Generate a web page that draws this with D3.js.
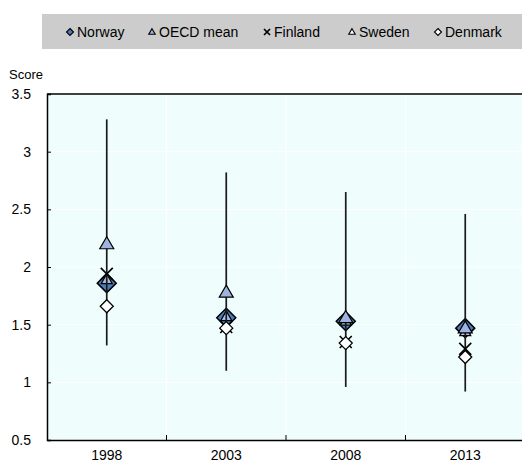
<!DOCTYPE html>
<html>
<head>
<meta charset="utf-8">
<script src="https://cdn.jsdelivr.net/npm/d3@7"></script>
<style>
  body { margin: 0; background: #fff; }
  text { font-family: "Liberation Sans", Arial, sans-serif; }
</style>
</head>
<body>
<script>
var width = 522;
var height = 465;

// data
var years = ["1998", "2003", "2008", "2013"];
var rangeMin = [1.32, 1.10, 0.96, 0.92];
var rangeMax = [3.28, 2.82, 2.65, 2.46];
var norway = [1.86, 1.56, 1.53, 1.47];
var oecdMean = [2.20, 1.78, 1.56, 1.47];
var finland = [1.94, 1.48, 1.35, 1.29];
var sweden = [1.89, 1.57, 1.53, 1.44];
var denmark = [1.66, 1.47, 1.34, 1.22];
var yTicks = [0.5, 1, 1.5, 2, 2.5, 3, 3.5];
var legendNames = ["Norway", "OECD mean", "Finland", "Sweden", "Denmark"];

var plotLeft = 47, plotRight = 525, plotTop = 94, plotBottom = 440;

var svg = d3.select("body").append("svg").attr("width", width).attr("height", height);

var x = d3.scaleBand().domain(years).range([plotLeft, plotRight]);
var y = d3.scaleLinear().domain([0.5, 3.5]).range([plotBottom, plotTop]);

// plot background
svg.append("rect")
    .attr("x", plotLeft).attr("y", plotTop)
    .attr("width", plotRight - plotLeft).attr("height", plotBottom - plotTop)
    .attr("fill", "#effdfd");

// white gridlines
svg.selectAll("line.hgrid").data(yTicks).enter().append("line")
    .attr("class", "hgrid")
    .attr("x1", plotLeft).attr("x2", plotRight)
    .attr("y1", function (d) { return y(d); })
    .attr("y2", function (d) { return y(d); })
    .attr("stroke", "#ffffff").attr("stroke-width", 1);
svg.selectAll("line.vgrid").data(years.slice(1)).enter().append("line")
    .attr("class", "vgrid")
    .attr("x1", function (d) { return x(d); })
    .attr("x2", function (d) { return x(d); })
    .attr("y1", plotTop).attr("y2", plotBottom)
    .attr("stroke", "#ffffff").attr("stroke-width", 1);

// axes
var yAxis = d3.axisLeft(y).tickValues(yTicks).tickSize(-4).tickPadding(16)
    .tickFormat(function (d) { return d; });
svg.append("g").attr("transform", "translate(" + plotLeft + ",0)").call(yAxis)
    .call(function (g) {
        g.select(".domain").attr("stroke", "#000").attr("stroke-width", 1.5);
        g.selectAll(".tick line").attr("stroke", "#000");
        g.selectAll("text").attr("font-size", 14).attr("fill", "#000")
            .attr("font-family", "Liberation Sans, Arial, sans-serif");
    });

var xAxis = d3.axisBottom(x).tickSize(0).tickPadding(10);
svg.append("g").attr("transform", "translate(0," + plotBottom + ")").call(xAxis)
    .call(function (g) {
        g.select(".domain").attr("stroke", "#000").attr("stroke-width", 1.5);
        g.selectAll("text").attr("font-size", 14).attr("fill", "#000")
            .attr("font-family", "Liberation Sans, Arial, sans-serif");
    });
// category separator ticks (pointing up)
svg.selectAll("line.xtick").data(years.slice(1)).enter().append("line")
    .attr("class", "xtick")
    .attr("x1", function (d) { return x(d); })
    .attr("x2", function (d) { return x(d); })
    .attr("y1", plotBottom).attr("y2", plotBottom - 5)
    .attr("stroke", "#000").attr("stroke-width", 1);

// top border
svg.append("line").attr("x1", plotLeft).attr("x2", plotRight).attr("y1", plotTop).attr("y2", plotTop)
    .attr("stroke", "#000").attr("stroke-width", 1.5);

svg.append("text").attr("x", 9).attr("y", 79).attr("font-size", 13).text("Score");

// marker paths
function diamond(r) {
    return "M0," + (-r) + "L" + r + ",0L0," + r + "L" + (-r) + ",0Z";
}
function triangle(w, h) {
    return "M0," + (-h * 0.6) + "L" + (w / 2) + "," + (h * 0.4) + "L" + (-w / 2) + "," + (h * 0.4) + "Z";
}
function cross(r) {
    return "M" + (-r) + "," + (-r) + "L" + r + "," + r + "M" + r + "," + (-r) + "L" + (-r) + "," + r;
}

var cx = function (d, i) { return x(years[i]) + x.bandwidth() / 2; };

function drawMarkers(data, path, fill, sw) {
    svg.append("g").selectAll("path").data(data).enter().append("path")
        .attr("transform", function (d, i) { return "translate(" + cx(d, i) + "," + y(d) + ")"; })
        .attr("d", path)
        .attr("fill", fill)
        .attr("stroke", "#000")
        .attr("stroke-width", sw)
        .attr("stroke-linejoin", "miter");
}

drawMarkers(norway, diamond(9.5), "#4a7ebb", 1.5);
drawMarkers(sweden, triangle(11, 10), "#a9bde6", 1.2);

// range lines
svg.append("g").selectAll("line").data(years).enter().append("line")
    .attr("x1", function (d) { return x(d) + x.bandwidth() / 2; })
    .attr("x2", function (d) { return x(d) + x.bandwidth() / 2; })
    .attr("y1", function (d, i) { return y(rangeMax[i]); })
    .attr("y2", function (d, i) { return y(rangeMin[i]); })
    .attr("stroke", "#1a1a1a").attr("stroke-width", 1.7);

drawMarkers(oecdMean, triangle(14, 12), "#9fb3df", 1.2);
drawMarkers(finland, cross(6), "none", 1.6);
drawMarkers(denmark, diamond(6.5), "#ffffff", 1.3);

// legend
svg.append("rect").attr("x", 42).attr("y", 14).attr("width", 480).attr("height", 35)
    .attr("fill", "#cccccc");

var legendX = [70, 152, 267, 352, 438];
var legendMarks = [
    { d: diamond(3.5), fill: "#4a7ebb", sw: 1.1 },
    { d: triangle(6.5, 5.5), fill: "#9fb3df", sw: 1.1 },
    { d: cross(3), fill: "none", sw: 1.7 },
    { d: triangle(6.5, 5.5), fill: "#ffffff", sw: 1.1 },
    { d: diamond(3.5), fill: "#ffffff", sw: 1.1 }
];
var lg = svg.append("g").selectAll("g").data(legendNames).enter().append("g")
    .attr("transform", function (d, i) { return "translate(" + legendX[i] + ",32)"; });
lg.append("path")
    .attr("d", function (d, i) { return legendMarks[i].d; })
    .attr("fill", function (d, i) { return legendMarks[i].fill; })
    .attr("stroke", "#000")
    .attr("stroke-width", function (d, i) { return legendMarks[i].sw; });
lg.append("text").attr("x", 7).attr("y", 5).attr("font-size", 14).text(function (d) { return d; });
</script>
</body>
</html>
